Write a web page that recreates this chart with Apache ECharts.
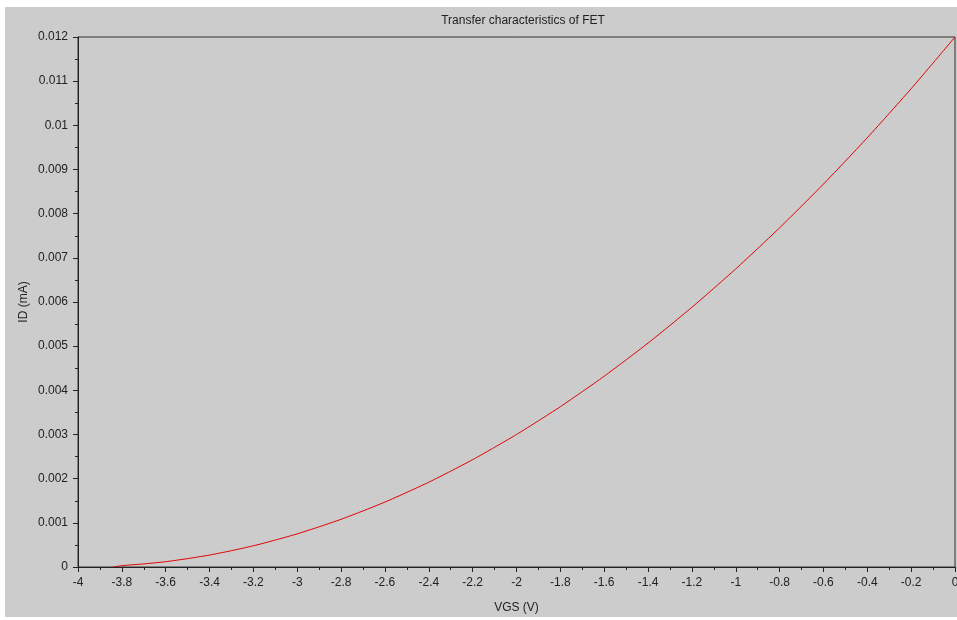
<!DOCTYPE html>
<html>
<head>
<meta charset="utf-8">
<script src="https://cdn.jsdelivr.net/npm/echarts@6/dist/echarts.min.js"></script>
<style>
html,body{margin:0;padding:0;background:#fff;}
#c{width:957px;height:620px;}
</style>
</head>
<body>
<div id="c"></div>
<script>
var titleText = 'Transfer characteristics of FET';
var xName = 'VGS (V)';
var yName = 'ID (mA)';
var vgs = [-3.84, -3.8, -3.7, -3.6, -3.5, -3.4, -3.3, -3.2, -3.1, -3.0, -2.9, -2.8, -2.7, -2.6, -2.5, -2.4, -2.3, -2.2, -2.1, -2.0, -1.9, -1.8, -1.7, -1.6, -1.5, -1.4, -1.3, -1.2, -1.1, -1.0, -0.9, -0.8, -0.7, -0.6, -0.5, -0.4, -0.3, -0.2, -0.1, 0];
var id  = [0, 0.00003, 0.00007, 0.00012, 0.00019, 0.00027, 0.00037, 0.00048, 0.00061, 0.00075, 0.00091, 0.00108, 0.00127, 0.00147, 0.00169, 0.00192, 0.00217, 0.00243, 0.00271, 0.0030, 0.00331, 0.00363, 0.00397, 0.00432, 0.00469, 0.00507, 0.00547, 0.00588, 0.00631, 0.00675, 0.00721, 0.00768, 0.00817, 0.00867, 0.00919, 0.00972, 0.01027, 0.01083, 0.01141, 0.012];

var pts = vgs.map(function(v, i){ return [v, id[i]]; });
var font = '"Liberation Sans", Arial, sans-serif';
var chart = echarts.init(document.getElementById('c'), null, {renderer:'canvas'});
chart.setOption({
  backgroundColor: '#ffffff',
  animation: false,
  graphic: [{
    type: 'rect', z: -100, silent: true,
    shape: {x: 5, y: 7, width: 952, height: 610},
    style: {fill: '#cccccc'}
  }],
  title: {
    text: titleText, left: 518, top: 10, textAlign: 'center',
    textStyle: {fontFamily: font, fontSize: 12, fontWeight: 'normal', color: '#222'}
  },
  grid: {left: 78, top: 37, right: 2, bottom: 53, outerBoundsMode: 'none', containLabel: false,
    show: true, borderColor: '#333', borderWidth: 1, backgroundColor: 'transparent'},
  xAxis: {
    type: 'value', min: -4, max: 0, interval: 0.2,
    name: xName, nameLocation: 'middle', nameGap: 35, nameMoveOverlap: false,
    nameTextStyle: {fontFamily: font, fontSize: 12, color: '#222'},
    axisLine: {onZero: false, lineStyle: {color: '#222', width: 1}},
    axisTick: {show: true, inside: false, length: 5, lineStyle: {color: '#222'}},
    minorTick: {show: true, splitNumber: 2, length: 3, lineStyle: {color: '#222'}},
    splitLine: {show: false},
    axisLabel: {margin: 10, fontFamily: font, fontSize: 12, color: '#222', showMinLabel: true, showMaxLabel: true,
      formatter: function(v){ return String(parseFloat(v.toFixed(1))); }}
  },
  yAxis: {
    type: 'value', min: 0, max: 0.012, interval: 0.001,
    name: yName, nameLocation: 'middle', nameGap: 48, nameMoveOverlap: false,
    nameTextStyle: {fontFamily: font, fontSize: 12, color: '#222'},
    axisLine: {show: true, onZero: false, lineStyle: {color: '#222', width: 1}},
    axisTick: {show: true, inside: false, length: 5, lineStyle: {color: '#222'}},
    minorTick: {show: true, splitNumber: 2, length: 3, lineStyle: {color: '#222'}},
    splitLine: {show: false},
    axisLabel: {margin: 10, fontFamily: font, fontSize: 12, color: '#222',
      formatter: function(v){ return String(parseFloat(v.toFixed(3))); }}
  },
  series: [{
    type: 'line', data: pts, showSymbol: false, smooth: 0.2,
    lineStyle: {color: '#e00000', width: 1}
  }]
});
</script>
</body>
</html>
